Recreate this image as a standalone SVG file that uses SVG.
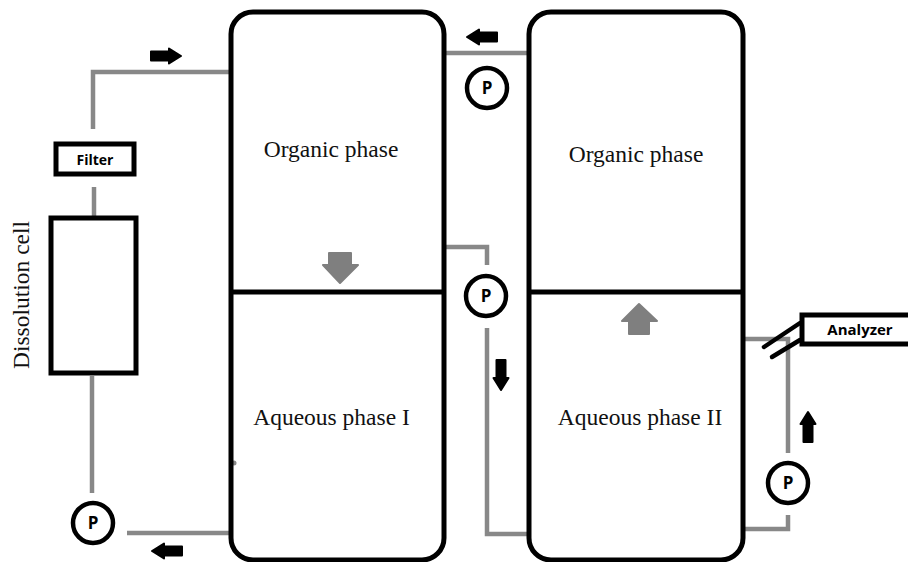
<svg xmlns="http://www.w3.org/2000/svg" xmlns:xlink="http://www.w3.org/1999/xlink" width="908" height="562" viewBox="0 0 908 562">
<style>
.tank{fill:none;stroke:#000;stroke-width:5}
.div{stroke:#000;stroke-width:5}
.pipe{fill:none;stroke:#888;stroke-width:4.5;stroke-linejoin:miter}
.pump{fill:#fff;stroke:#000;stroke-width:4.5}
.ptxt{font-family:"Open Sans","Liberation Sans",sans-serif;font-weight:bold;font-size:17px;text-anchor:middle}
.lbl{font-family:"Liberation Serif",serif;font-size:23.5px;text-anchor:middle;fill:#111}
.box{fill:#fff;stroke:#000;stroke-width:5}
.btxt{font-family:"Open Sans","Liberation Sans",sans-serif;font-weight:bold;text-anchor:middle}
.big{fill:#7f7f7f;stroke:#7f7f7f;stroke-width:2;stroke-linejoin:round}
.sa{fill:#000;stroke:#000;stroke-width:2;stroke-linejoin:round}
</style>
<defs>
<path id="sarrow" class="sa" d="M-15,-4.5 H3 V-7.5 L15,0 L3,7.5 V4.5 H-15 Z"/>
</defs>
<rect width="908" height="562" fill="#fff"/>

<g id="connectors">
<path class="pipe" d="M93,129 V72 H231"/>
<path class="pipe" d="M94,187 V216"/>
<path class="pipe" d="M92,376 V493"/>
<path class="pipe" d="M127,533 H231"/>
<path class="pipe" d="M446,53 H529"/>
<path class="pipe" d="M446,247 H487 V265"/>
<path class="pipe" d="M487,328 V534 H529"/>
<path class="pipe" d="M745,339 H788 V453"/>
<path class="pipe" d="M788,515 V529 H745"/>
<circle cx="234" cy="463" r="2.5" fill="#888"/>
<line x1="764" y1="347" x2="800" y2="323" stroke="#000" stroke-width="4.5" stroke-linecap="round"/>
<line x1="772" y1="357" x2="800" y2="340" stroke="#000" stroke-width="4.5" stroke-linecap="round"/>
<use xlink:href="#sarrow" transform="translate(166,56)"/>
<use xlink:href="#sarrow" transform="translate(167,551) rotate(180)"/>
<use xlink:href="#sarrow" transform="translate(482,37) rotate(180)"/>
<use xlink:href="#sarrow" transform="translate(501,375) rotate(90)"/>
<use xlink:href="#sarrow" transform="translate(808,427) rotate(-90)"/>
<path class="big" d="M329,253 H351 V265 H358 L340,283 L323,265 H329 Z"/>
<path class="big" d="M629,334 H649 V321 H657 L639,304 L622,321 H629 Z"/>
</g>

<g id="tank1">
<rect class="tank" x="231" y="12" width="213" height="548" rx="22"/>
<line class="div" x1="231" y1="292" x2="444" y2="292"/>
<text class="lbl" x="331" y="157">Organic phase</text>
<text class="lbl" x="331.5" y="425">Aqueous phase I</text>
</g>

<g id="tank2">
<rect class="tank" x="529" y="12" width="214" height="548" rx="22"/>
<line class="div" x1="529" y1="292" x2="743" y2="292"/>
<text class="lbl" x="636" y="162">Organic phase</text>
<text class="lbl" x="640" y="425">Aqueous phase II</text>
</g>

<g id="filter">
<rect class="box" x="56" y="144" width="78" height="30"/>
<text class="btxt" x="95" y="165" font-size="14">Filter</text>
</g>

<g id="dissolution-cell">
<rect class="box" x="51" y="218" width="85" height="155" stroke-width="5.5"/>
<text class="lbl" transform="translate(29,295) rotate(-90)" font-size="24">Dissolution cell</text>
</g>

<g id="analyzer">
<rect class="box" x="802" y="315" width="120" height="29"/>
<text class="btxt" x="860" y="335" font-size="15">Analyzer</text>
</g>

<g id="pump1"><circle class="pump" cx="93" cy="523" r="20"/><text class="ptxt" x="93" y="529">P</text></g>
<g id="pump2"><circle class="pump" cx="487" cy="88" r="20"/><text class="ptxt" x="487" y="94">P</text></g>
<g id="pump3"><circle class="pump" cx="486" cy="296" r="20"/><text class="ptxt" x="486" y="302">P</text></g>
<g id="pump4"><circle class="pump" cx="788" cy="483" r="20"/><text class="ptxt" x="788" y="489">P</text></g>
</svg>
